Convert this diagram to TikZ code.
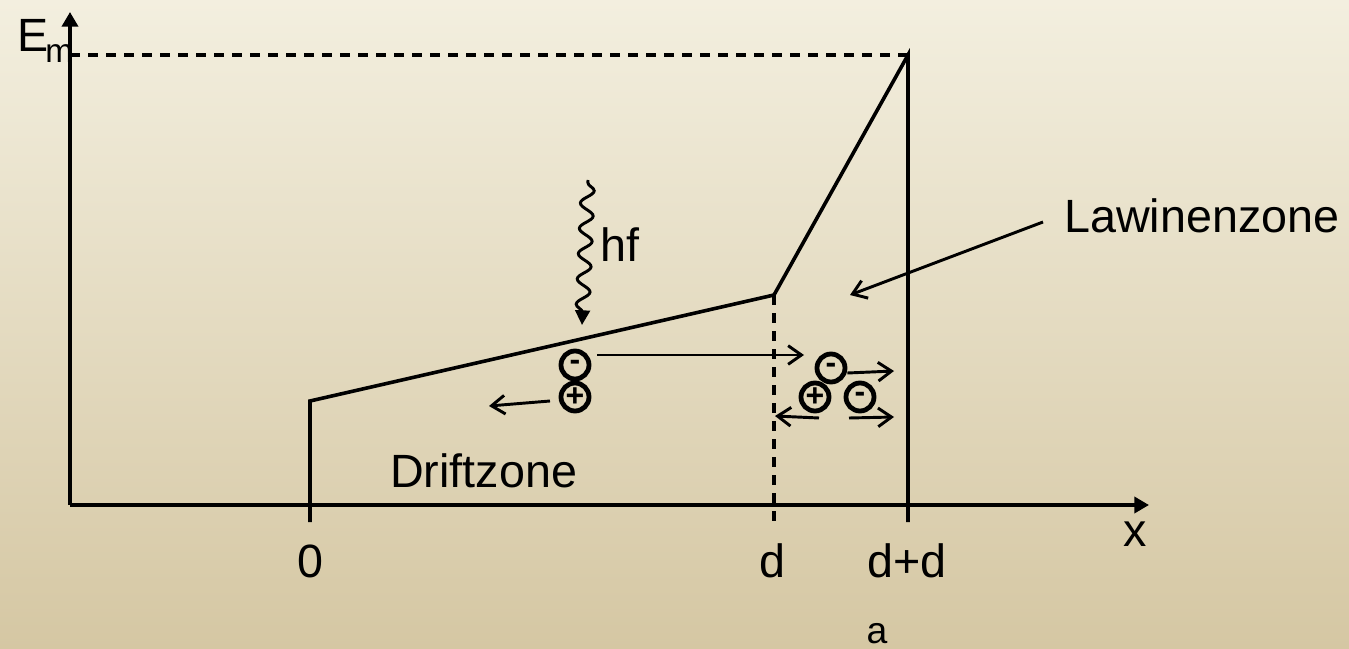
\documentclass[tikz,border=0pt]{standalone}
\usepackage{fontspec}
\setmainfont{Liberation Sans}
\usetikzlibrary{arrows.meta,decorations.pathmorphing}
\definecolor{bgtop}{RGB}{243,239,223}
\definecolor{bgbot}{RGB}{213,199,163}
\begin{document}
\begin{tikzpicture}[x=0.75pt,y=-0.75pt,
  line/.style={line width=2.7pt},
  axis/.style={line width=2.7pt,-{Triangle[length=11pt,width=12pt]}},
  barb/.style={line width=2.2pt,-{Straight Barb[length=10pt,width=14pt,line width=2.2pt]}},
  dashline/.style={line width=2.5pt,dash pattern=on 7.5pt off 6pt},
  lbl/.style={font=\fontsize{35}{40}\selectfont,inner sep=0pt,anchor=base},
  charge/.style={circle,draw,line width=3.6pt,minimum size=21pt,inner sep=0pt,font=\bfseries\fontsize{24}{26}\selectfont},
]
\shade[top color=bgtop,bottom color=bgbot] (0,0) rectangle (1349,649);
\useasboundingbox (0,0) rectangle (1349,649);
% axes
\coordinate (O) at (70,505);
\coordinate (ytip) at (70,12);
\coordinate (xtip) at (1149,505);
\draw[axis] (O) -- (ytip);
\draw[axis] (O) -- (xtip);
% field profile
\coordinate (b0) at (310,522);
\coordinate (c0) at (310,401);
\coordinate (k) at (774,295);
\coordinate (top) at (908,55);
\coordinate (bdd) at (908,522);
\coordinate (bd) at (774,522);
\coordinate (em) at (70,55);
\draw[line,line join=miter] (b0) -- (c0) -- (k) -- (top) -- (bdd);
\draw[dashline] (em) -- (top);
\draw[dashline] (k) -- (bd);
% labels
\node[lbl,anchor=base west] (E) at (17,52) {E};
\node[font=\fontsize{25}{28}\selectfont,inner sep=0pt,anchor=base west] (m) at (45,63) {m};
\node[lbl] (l0) at (310,577) {0};
\node[lbl] (ld) at (772,577) {d};
\node[lbl] (ldd) at (907,577) {d+d};
\node[font=\fontsize{28}{30}\selectfont,inner sep=0pt,anchor=base] (la) at (877,643) {a};
\node[lbl] (lx) at (1135,546) {x};
\node[lbl,anchor=base west] (hf) at (600,261) {hf};
\node[lbl,anchor=base west] (law) at (1064,232) {Lawinenzone};
\node[lbl,anchor=base west] (drift) at (390,487) {Driftzone};
% photon
\coordinate (ph1) at (588,180);
\coordinate (ph2) at (582,325);
\draw[line width=2.2pt,-{Triangle[length=11pt,width=11pt]},decorate,decoration={snake,amplitude=5pt,segment length=19pt,post length=9pt,pre length=2pt}] (ph1) -- (ph2);
% Lawinenzone pointer
\coordinate (lw1) at (1043,222);
\coordinate (lw2) at (850,295);
\draw[barb] (lw1) -- (lw2);
% charges left
\node[charge] (n1) at (575,365) {-};
\node[charge] (p1) at (575,397) {+};
\coordinate (a1s) at (597,355);
\coordinate (a1e) at (804,355);
\draw[barb] (a1s) -- (a1e);
\coordinate (a2s) at (550,401);
\coordinate (a2e) at (489,406);
\draw[barb] (a2s) -- (a2e);
% charges right
\node[charge] (n2) at (831,368) {-};
\node[charge] (p2) at (815,397) {+};
\node[charge] (n3) at (860,397) {-};
\coordinate (a3e) at (894,371);
\draw[barb] (n2.east |- 0,373) -- (a3e);
\coordinate (a4s) at (819,418);
\coordinate (a4e) at (775,416);
\draw[barb] (a4s) -- (a4e);
\coordinate (a5s) at (849,418);
\coordinate (a5e) at (894,417);
\draw[barb] (a5s) -- (a5e);
\end{tikzpicture}
\end{document}
